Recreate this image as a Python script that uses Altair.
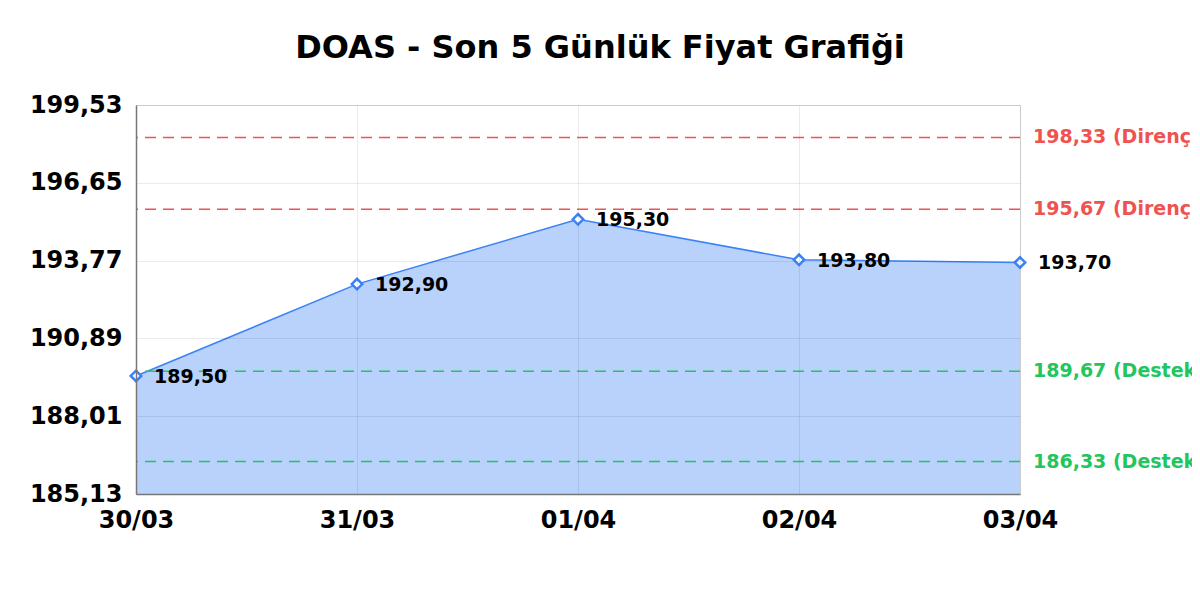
import altair as alt
import pandas as pd

dates = ["30/03", "31/03", "01/04", "02/04", "03/04"]
prices = [189.50, 192.90, 195.30, 193.80, 193.70]

level_values = [198.33, 195.67, 189.67, 186.33]
level_kinds = ["Direnç", "Direnç", "Destek", "Destek"]

y_ticks = [185.13, 188.01, 190.89, 193.77, 196.65, 199.53]

title_text = "DOAS - Son 5 Günlük Fiyat Grafiği"

BLUE = "#3b82f6"
RED = "#ef5350"
GREEN = "#22c55e"
FONT = "DejaVu Sans"


def tr(v):
    return f"{v:.2f}".replace(".", ",")


df = pd.DataFrame({"date": dates, "price": prices})
df["label"] = [tr(v) for v in prices]

lv = pd.DataFrame({"value": level_values, "kind": level_kinds})
lv["label"] = [f"{tr(v)} ({k})" for v, k in zip(level_values, level_kinds)]
lv["date"] = dates[-1]

x_enc = alt.X(
    "date:O",
    sort=dates,
    scale=alt.Scale(type="point", padding=0),
    axis=alt.Axis(
        title=None, labelAngle=0, labelFontSize=24, labelFontWeight="bold",
        labelColor="#000", labelFont=FONT, ticks=False, labelPadding=14,
        grid=True, gridColor="#000", gridOpacity=0.08, domainColor="#777",
        domainWidth=1.5, zindex=1,
    ),
)
y_scale = alt.Scale(domain=[y_ticks[0], y_ticks[-1]], zero=False, nice=False)
y_enc = alt.Y(
    "price:Q",
    scale=y_scale,
    axis=alt.Axis(
        title=None, values=y_ticks, labelFontSize=24, labelFontWeight="bold",
        labelColor="#000", labelFont=FONT, ticks=False, labelPadding=14,
        labelExpr="replace(format(datum.value, '.2f'), '.', ',')",
        grid=True, gridColor="#000", gridOpacity=0.08, domainColor="#777",
        domainWidth=1.5, zindex=1, labelBound=False,
    ),
)

base = alt.Chart(df)

area = base.mark_area(color=BLUE, opacity=0.36).encode(
    x=x_enc, y=y_enc, y2=alt.datum(y_ticks[0])
)
line = base.mark_line(color=BLUE, strokeWidth=1.5).encode(x=x_enc, y=y_enc)

color_enc = alt.Color(
    "kind:N", scale=alt.Scale(domain=["Direnç", "Destek"], range=[RED, GREEN]), legend=None
)

rules = alt.Chart(lv).mark_rule(strokeDash=[11, 7], strokeWidth=1.5).encode(
    y=alt.Y("value:Q", scale=y_scale),
    color=color_enc,
)
rule_labels = alt.Chart(lv).mark_text(
    align="left", baseline="middle", dx=13, fontSize=19, fontWeight="bold", font=FONT
).encode(
    x=alt.X("date:O", sort=dates, scale=alt.Scale(type="point", padding=0)),
    y=alt.Y("value:Q", scale=y_scale),
    text="label:N",
    color=color_enc,
)

points = base.mark_point(
    shape="diamond", filled=True, fill="white", stroke=BLUE, strokeWidth=2.5, size=110, opacity=1
).encode(x=x_enc, y=y_enc)

labels = base.mark_text(
    align="left", baseline="middle", dx=18, dy=1, fontSize=19, fontWeight="bold", font=FONT, color="#000"
).encode(x=x_enc, y=y_enc, text="label:N")

chart = alt.layer(area, line, rules, rule_labels, points, labels).properties(
    width=884,
    height=389,
    autosize=alt.AutoSizeParams(type="none"),
    padding={"left": 128, "top": 97, "right": 172, "bottom": 90},
    title=alt.TitleParams(
        title_text, fontSize=32, fontWeight="bold", font=FONT, color="#000",
        anchor="middle", dx=22, offset=28,
    ),
).configure_view(stroke=None).configure(background="white")

chart.save("out.html", embed_options={"renderer": "svg", "actions": False})
